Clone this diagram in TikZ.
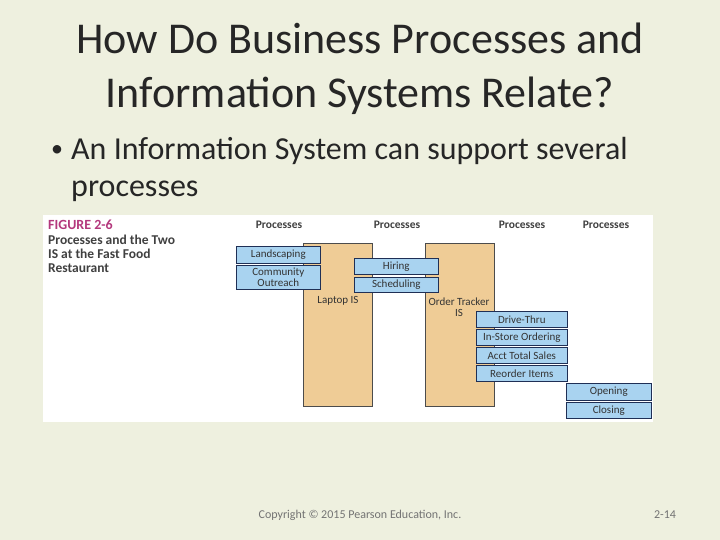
\documentclass[tikz,border=0pt]{standalone}
\usepackage{fontspec}
\setmainfont{Carlito}
\definecolor{bg}{HTML}{EEF0DF}
\definecolor{sky}{HTML}{A9D3F0}
\definecolor{tan}{HTML}{EFCC96}
\definecolor{navy}{HTML}{1F2F55}
\begin{document}
\begin{tikzpicture}[x=1pt,y=-1pt,
  proc/.style={draw=navy,line width=0.6pt,fill=sky,minimum width=84pt,inner sep=0pt,font=\fontsize{11}{11}\selectfont,align=center,text=black!80},
  isbox/.style={fill=tan,draw=black!70,line width=0.5pt},
  hd/.style={font=\bfseries\fontsize{11.5}{12}\selectfont,text=black!75}]
\fill[bg] (0,0) rectangle (720,540);
\useasboundingbox (0,0) rectangle (720,540);
\node[font=\fontsize{44}{54}\selectfont,align=center,text=black!85] (title) at (360,69) {How Do Business Processes and\\Information Systems Relate?};
\node[font=\fontsize{24}{24}\selectfont,text=black!85,inner sep=0pt] (bul) at (57,151) {\textbullet};
\node[font=\fontsize{32}{37}\selectfont,anchor=north west,align=left,text=black!85,inner sep=0pt] (btext) at (71,137) {An Information System can support several\\processes};
\node[fill=white,minimum width=610pt,minimum height=207pt,anchor=north west,inner sep=0pt] (panel) at (43,215) {};
\node[isbox,minimum width=69pt,minimum height=163pt,anchor=north west] (lap) at (303,243) {};
\node[isbox,minimum width=69pt,minimum height=163pt,anchor=north west] (ord) at (425,243) {};
\node[font=\fontsize{11}{11}\selectfont,text=black!80] (lapl) at (338,301) {Laptop IS};
\node[font=\fontsize{11}{11}\selectfont,text=black!80,align=center] (ordl) at (459,307) {Order Tracker\\IS};
\node[proc,minimum height=17pt,anchor=north west] (l1) at (236,246) {Landscaping};
\node[proc,minimum height=24pt,anchor=north west] (l2) at (236,265) {Community\\Outreach};
\node[proc,minimum height=16pt,anchor=north west] (h1) at (354,258) {Hiring};
\node[proc,minimum height=15pt,anchor=north west] (h2) at (354,277) {Scheduling};
\node[proc,minimum width=91pt,minimum height=16pt,anchor=north west] (d1) at (476,311) {Drive-Thru};
\node[proc,minimum width=91pt,minimum height=16pt,anchor=north west] (d2) at (476,329) {In-Store Ordering};
\node[proc,minimum width=91pt,minimum height=16pt,anchor=north west] (d3) at (476,347) {Acct Total Sales};
\node[proc,minimum width=91pt,minimum height=16pt,anchor=north west] (d4) at (476,365) {Reorder Items};
\node[proc,minimum width=85pt,minimum height=17pt,anchor=north west] (o1) at (566,383) {Opening};
\node[proc,minimum width=85pt,minimum height=16pt,anchor=north west] (o2) at (566,402) {Closing};
\node[hd] (p1) at (279,225) {Processes};
\node[hd] (p2) at (397,225) {Processes};
\node[hd] (p3) at (522,225) {Processes};
\node[hd] (p4) at (606,225) {Processes};
\node[font=\bfseries\fontsize{14}{14}\selectfont,text=magenta!70!black,anchor=west,inner sep=0pt] (fig) at (48,225) {FIGURE 2-6};
\node[font=\bfseries\fontsize{13.5}{14}\selectfont,text=black!75,anchor=north west,align=left,inner sep=0pt] (cap) at (48,235) {Processes and the Two\\IS at the Fast Food\\Restaurant};
\node[font=\fontsize{12}{12}\selectfont,text=black!55] (copy) at (360,515) {Copyright © 2015 Pearson Education, Inc.};
\node[font=\fontsize{12}{12}\selectfont,text=black!55] (pg) at (665,515) {2-14};
\end{tikzpicture}
\end{document}
